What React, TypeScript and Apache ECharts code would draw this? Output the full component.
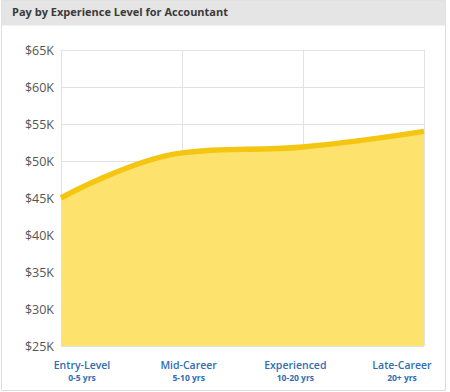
import React, { useEffect, useRef } from "react";
import * as echarts from "echarts";

const categories = ["Entry-Level", "Mid-Career", "Experienced", "Late-Career"];
const yearRanges = ["0-5 yrs", "5-10 yrs", "10-20 yrs", "20+ yrs"];
const payValues = [45000, 51100, 51900, 54000];
const chartTitle = "Pay by Experience Level for Accountant";

export default function App() {
  const ref = useRef<HTMLDivElement>(null);
  useEffect(() => {
    if (!ref.current) return;
    const chart = echarts.init(ref.current, undefined, { renderer: "svg" });
    chart.setOption({
      animation: false,
      title: {
        text: chartTitle,
        left: 7,
        top: 1,
        textStyle: { fontFamily: "Open Sans", fontWeight: "bold", fontSize: 11, color: "#3a3a3a" },
      },
      graphic: [
        { type: "rect", shape: { x: 1.5, y: 0.5, width: 444, height: 390 }, style: { fill: "#fff", stroke: "#dcdcdc", lineWidth: 1 }, z: -10 },
        { type: "rect", shape: { x: 1.5, y: 0.5, width: 444, height: 25 }, style: { fill: "#e5e5e5" }, z: -9 },
      ],
      grid: [
        { left: 61, right: 26, top: 50, bottom: 46 },
        { left: 82, right: 48, top: 50, bottom: 46 },
      ],
      xAxis: [
        {
          type: "category",
          gridIndex: 0,
          data: categories,
          boundaryGap: false,
          axisLine: { show: false },
          axisTick: { show: false },
          axisLabel: { show: false },
          splitLine: { show: true, lineStyle: { color: "#e2e2e2", width: 1 } },
        },
        {
          type: "category",
          gridIndex: 1,
          data: categories.map((c, i) => c + "\n" + yearRanges[i]),
          boundaryGap: false,
          axisLine: { show: false },
          axisTick: { show: false },
          splitLine: { show: false },
          axisLabel: {
            margin: 13,
            interval: 0,
            formatter: (v: string) => {
              const [a, b] = v.split("\n");
              return "{a|" + a + "}\n{b|" + b + "}";
            },
            rich: {
              a: { fontFamily: "Open Sans", fontWeight: 600, fontSize: 10.5, color: "#2f6db5", lineHeight: 12 },
              b: { fontFamily: "Open Sans", fontWeight: 700, fontSize: 8.5, color: "#2f6db5", lineHeight: 12 },
            },
          },
        },
      ],
      yAxis: [
        {
          type: "value",
          gridIndex: 0,
          min: 25000,
          max: 65000,
          interval: 5000,
          axisLine: { show: true, lineStyle: { color: "#e2e2e2" } },
          axisTick: { show: false },
          splitLine: { show: true, lineStyle: { color: "#e2e2e2", width: 1 } },
          axisLabel: {
            margin: 7,
            color: "#555",
            fontFamily: "Open Sans",
            fontSize: 12.5,
            formatter: (v: number) => "$" + v / 1000 + "K",
          },
        },
        {
          type: "value",
          gridIndex: 1,
          min: 25000,
          max: 65000,
          show: false,
        },
      ],
      series: [
        {
          type: "line",
          xAxisIndex: 0,
          yAxisIndex: 0,
          data: payValues,
          smooth: 0.4,
          symbol: "none",
          lineStyle: { color: "#f4c612", width: 5.5 },
          areaStyle: { color: "#fde26e", opacity: 1 },
        },
      ],
    });
    return () => chart.dispose();
  }, []);
  return (
    <div style={{ position: "fixed", left: 0, top: 0, width: 450, height: 392, background: "#fff" }}>
      <div ref={ref} style={{ width: 450, height: 392 }} />
    </div>
  );
}
